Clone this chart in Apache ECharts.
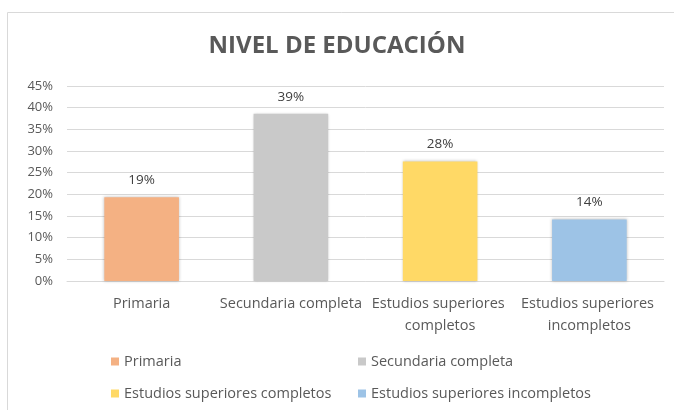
<!DOCTYPE html>
<html>
<head>
<meta charset="utf-8">
<script src="https://cdn.jsdelivr.net/npm/echarts@6/dist/echarts.min.js"></script>
<style>html,body{margin:0;padding:0;background:#fff}#c{width:674px;height:410px}</style>
</head>
<body>
<div id="c"></div>
<script>
const titleText = 'NIVEL DE EDUCACIÓN';
const categories = ['Primaria', 'Secundaria completa', 'Estudios superiores completos', 'Estudios superiores incompletos'];
const values = [0.193, 0.386, 0.276, 0.142];
const colors = ['#F4B183', '#C9C9C9', '#FFD966', '#9DC3E6'];
const yTicks = { min: 0, max: 0.45, interval: 0.05 };

const FONT = 'Open Sans';
const chart = echarts.init(document.getElementById('c'), null, { renderer: 'canvas' });

const series = categories.map((name, i) => ({
  name: name,
  type: 'bar',
  stack: 'total',
  barWidth: '50%',
  itemStyle: { color: colors[i], shadowBlur: 3, shadowColor: 'rgba(0,0,0,0.25)' },
  label: {
    show: true,
    position: 'top',
    distance: 10,
    color: '#404040',
    fontFamily: FONT,
    fontSize: 13.5,
    formatter: p => Math.round(p.value * 100) + '%'
  },
  data: values.map((v, j) => (j === i ? v : '-'))
}));

const legendCommon = {
  orient: 'vertical',
  icon: 'rect',
  itemWidth: 8,
  itemHeight: 8,
  itemGap: 17,
  textStyle: { color: '#595959', fontFamily: FONT, fontSize: 14.5 },
  selectedMode: false
};

chart.setOption({
  animation: false,
  textStyle: { fontFamily: FONT },
  title: {
    text: titleText,
    left: 'center',
    top: 29,
    padding: [5, 2, 5, 10],
    textStyle: { color: '#595959', fontFamily: FONT, fontSize: 24, fontWeight: 'bold' }
  },
  graphic: [{
    type: 'rect',
    z: -1,
    shape: { x: 7.5, y: 12.5, width: 700, height: 420 },
    style: { fill: 'none', stroke: '#d9d9d9', lineWidth: 1 }
  }],
  legend: [
    Object.assign({ left: 106, top: 349, data: [categories[0], categories[2]] }, legendCommon),
    Object.assign({ left: 353, top: 349, data: [categories[1], categories[3]] }, legendCommon)
  ],
  grid: { left: 67, right: 10, top: 86, bottom: 129, containLabel: false },
  xAxis: {
    type: 'category',
    data: categories,
    axisLine: { lineStyle: { color: '#d9d9d9' } },
    axisTick: { show: false },
    axisLabel: {
      color: '#595959',
      fontFamily: FONT,
      fontSize: 14.5,
      margin: 12,
      width: 148,
      overflow: 'break',
      lineHeight: 22,
      interval: 0
    }
  },
  yAxis: {
    type: 'value',
    min: yTicks.min,
    max: yTicks.max,
    interval: yTicks.interval,
    axisLine: { show: false },
    axisTick: { show: false },
    splitLine: { lineStyle: { color: '#d9d9d9' } },
    axisLabel: {
      color: '#595959',
      fontFamily: FONT,
      fontSize: 13,
      margin: 14,
      formatter: v => Math.round(v * 100) + '%'
    }
  },
  series: series
});
</script>
</body>
</html>
